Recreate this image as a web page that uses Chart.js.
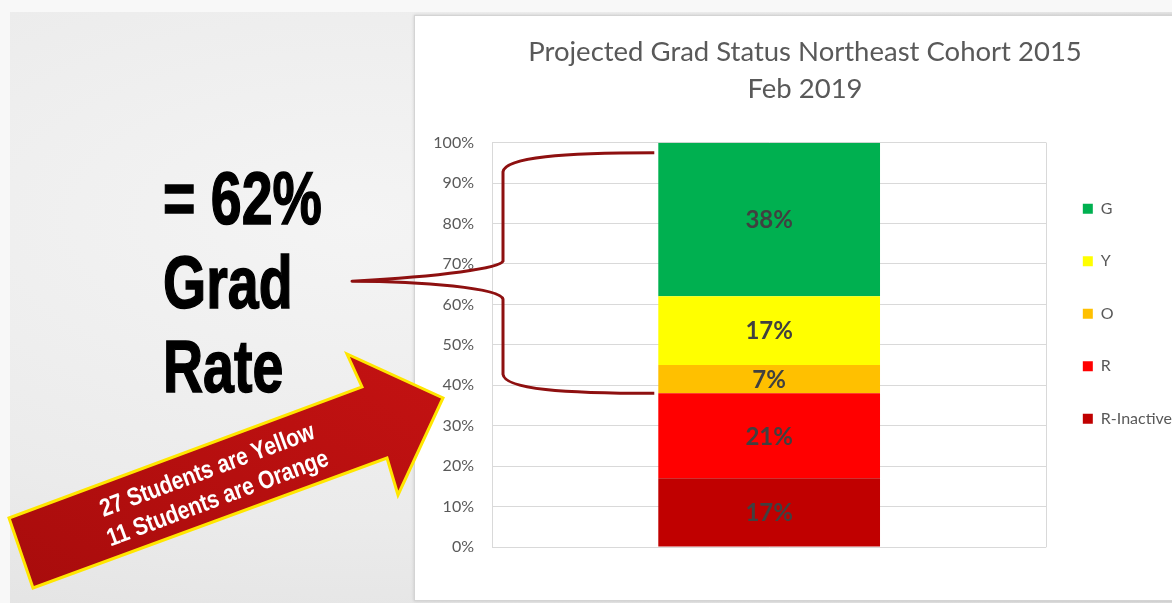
<!DOCTYPE html>
<html>
<head>
<meta charset="utf-8">
<script src="https://cdn.jsdelivr.net/npm/chart.js@4.4.1/dist/chart.umd.min.js"></script>
<style>
  html, body { margin: 0; padding: 0; width: 1172px; height: 603px; overflow: hidden; background: #f8f8f8; }
  #slide { position: absolute; left: 10px; top: 12px; width: 1162px; height: 591px;
    background: radial-gradient(ellipse at 30% 35%, #f4f4f4 0%, #ebebeb 55%, #dedede 100%); }
  #box { position: absolute; left: 414px; top: 15px; width: 800px; height: 584px; background: #fff;
    border: 1px solid #d4d4d4; box-shadow: 0 0 3px rgba(0,0,0,0.15); }
  #c { position: absolute; left: 0; top: 0; }
  #big { position: absolute; left: 163px; top: 157px; font-family: 'Liberation Sans', Arial, sans-serif;
    font-weight: bold; font-size: 74px; line-height: 84px; color: #000; -webkit-text-stroke: 1.5px #000;
    transform: scaleX(0.75); transform-origin: 0 0; white-space: nowrap; }
  #arrow { position: absolute; left: 0; top: 0; }
  #arrowText { position: absolute; left: 212px; top: 483px;
    transform: translate(-50%, -50%) rotate(-20.4deg) scaleX(0.84);
    font-family: 'Liberation Sans', Arial, sans-serif; font-weight: bold; font-size: 25px;
    line-height: 30px; color: #fff; text-align: center; white-space: nowrap; }
</style>
</head>
<body>
<div id="slide"></div>
<div id="box"></div>
<canvas id="c" width="1200" height="603"></canvas>
<div id="big">= 62%<br>Grad<br>Rate</div>
<svg id="arrow" width="460" height="603">
  <defs>
    <linearGradient id="ag" x1="0" y1="1" x2="1" y2="0">
      <stop offset="0" stop-color="#a80c0c"/>
      <stop offset="1" stop-color="#c41212"/>
    </linearGradient>
  </defs>
  <polygon points="9,518 362,387 347,354 443,398 398,495 387,458 33,588" fill="url(#ag)" stroke="#ffe600" stroke-width="3"/>
</svg>
<div id="arrowText">27 Students are Yellow<br>11 Students are Orange</div>
<script>
// data, bottom of the stack first
const categories = ['Northeast Cohort 2015'];
const seriesNames = ['R-Inactive', 'R', 'O', 'Y', 'G'];
const rInactive = [17];
const red = [21];
const orange = [7];
const yellow = [17];
const green = [38];
const seriesData = [rInactive, red, orange, yellow, green];
const seriesColors = ['#c00000', '#ff0000', '#ffc000', '#ffff00', '#00b050'];
const titleLines = ['Projected Grad Status Northeast Cohort 2015', 'Feb 2019'];

// brace from the top of G down to the top of R
const braceTop = 97.5;
const braceMid = 66;
const braceBottom = 38;

Chart.defaults.font.family = 'Lato';

const labelPlugin = {
  id: 'barLabels',
  afterDatasetsDraw(chart) {
    const ctx = chart.ctx;
    ctx.save();
    ctx.font = 'bold 24px Lato';
    ctx.fillStyle = '#404040';
    ctx.textAlign = 'center';
    ctx.textBaseline = 'middle';
    chart.data.datasets.forEach((ds, i) => {
      chart.getDatasetMeta(i).data.forEach((bar, j) => {
        const p = bar.getCenterPoint();
        ctx.fillText(ds.data[j] + '%', p.x, p.y + 1);
      });
    });
    ctx.restore();
  }
};

const bracePlugin = {
  id: 'brace',
  afterDraw(chart) {
    const ctx = chart.ctx;
    const y = chart.scales.y;
    const a = chart.chartArea;
    const bar = chart.getDatasetMeta(0).data[0];
    const xe = bar.x - bar.width / 2 - 4;
    const xv = a.left + 11;
    const xt = a.left - 140;
    const top = y.getPixelForValue(braceTop);
    const mid = y.getPixelForValue(braceMid);
    const bot = y.getPixelForValue(braceBottom);
    ctx.save();
    ctx.strokeStyle = '#8e1010';
    ctx.lineWidth = 3;
    ctx.lineJoin = 'round';
    ctx.beginPath();
    ctx.moveTo(xe, top);
    ctx.bezierCurveTo(xe - 90, top, xv + 2, top + 4, xv, top + 19);
    ctx.lineTo(xv, mid - 19);
    ctx.bezierCurveTo(xv - 3, mid - 12, xv - 60, mid - 4, xt, mid + 1);
    ctx.bezierCurveTo(xv - 80, mid + 1, xv - 3, mid + 8, xv, mid + 19);
    ctx.lineTo(xv, bot - 19);
    ctx.bezierCurveTo(xv + 2, bot - 4, xe - 90, bot, xe, bot);
    ctx.stroke();
    ctx.restore();
  }
};

new Chart(document.getElementById('c'), {
  type: 'bar',
  data: {
    labels: categories,
    datasets: seriesNames.map((name, i) => ({
      label: name,
      data: seriesData[i],
      backgroundColor: seriesColors[i],
      borderWidth: 0,
      barPercentage: 0.4,
      categoryPercentage: 1
    }))
  },
  options: {
    responsive: false,
    animation: false,
    devicePixelRatio: 1,
    layout: { padding: { left: 428, right: 18, top: 0, bottom: 56 } },
    scales: {
      x: {
        stacked: true,
        grid: { color: '#d9d9d9', drawTicks: false, offset: true },
        border: { display: false },
        ticks: { display: false }
      },
      y: {
        stacked: true,
        min: 0,
        max: 100,
        ticks: { stepSize: 10, padding: 18, color: '#595959', font: { size: 16 }, callback: v => v + '%' },
        grid: { color: '#d9d9d9', drawTicks: false },
        border: { color: '#d9d9d9' },
        afterFit: s => { s.width = 64; }
      }
    },
    plugins: {
      title: {
        display: true,
        text: titleLines,
        color: '#595959',
        font: { size: 27.5, weight: 'normal', lineHeight: 1.34 },
        padding: { top: 33.5, bottom: 35.5 }
      },
      legend: {
        position: 'right',
        align: 'start',
        fullSize: false,
        reverse: true,
        title: { display: true, text: ' ', font: { size: 10 }, padding: 4.75 },
        labels: { boxWidth: 10, boxHeight: 10, padding: 36.5, color: '#595959', font: { size: 16 } }
      },
      tooltip: { enabled: false }
    }
  },
  plugins: [labelPlugin, bracePlugin]
});
</script>
</body>
</html>
